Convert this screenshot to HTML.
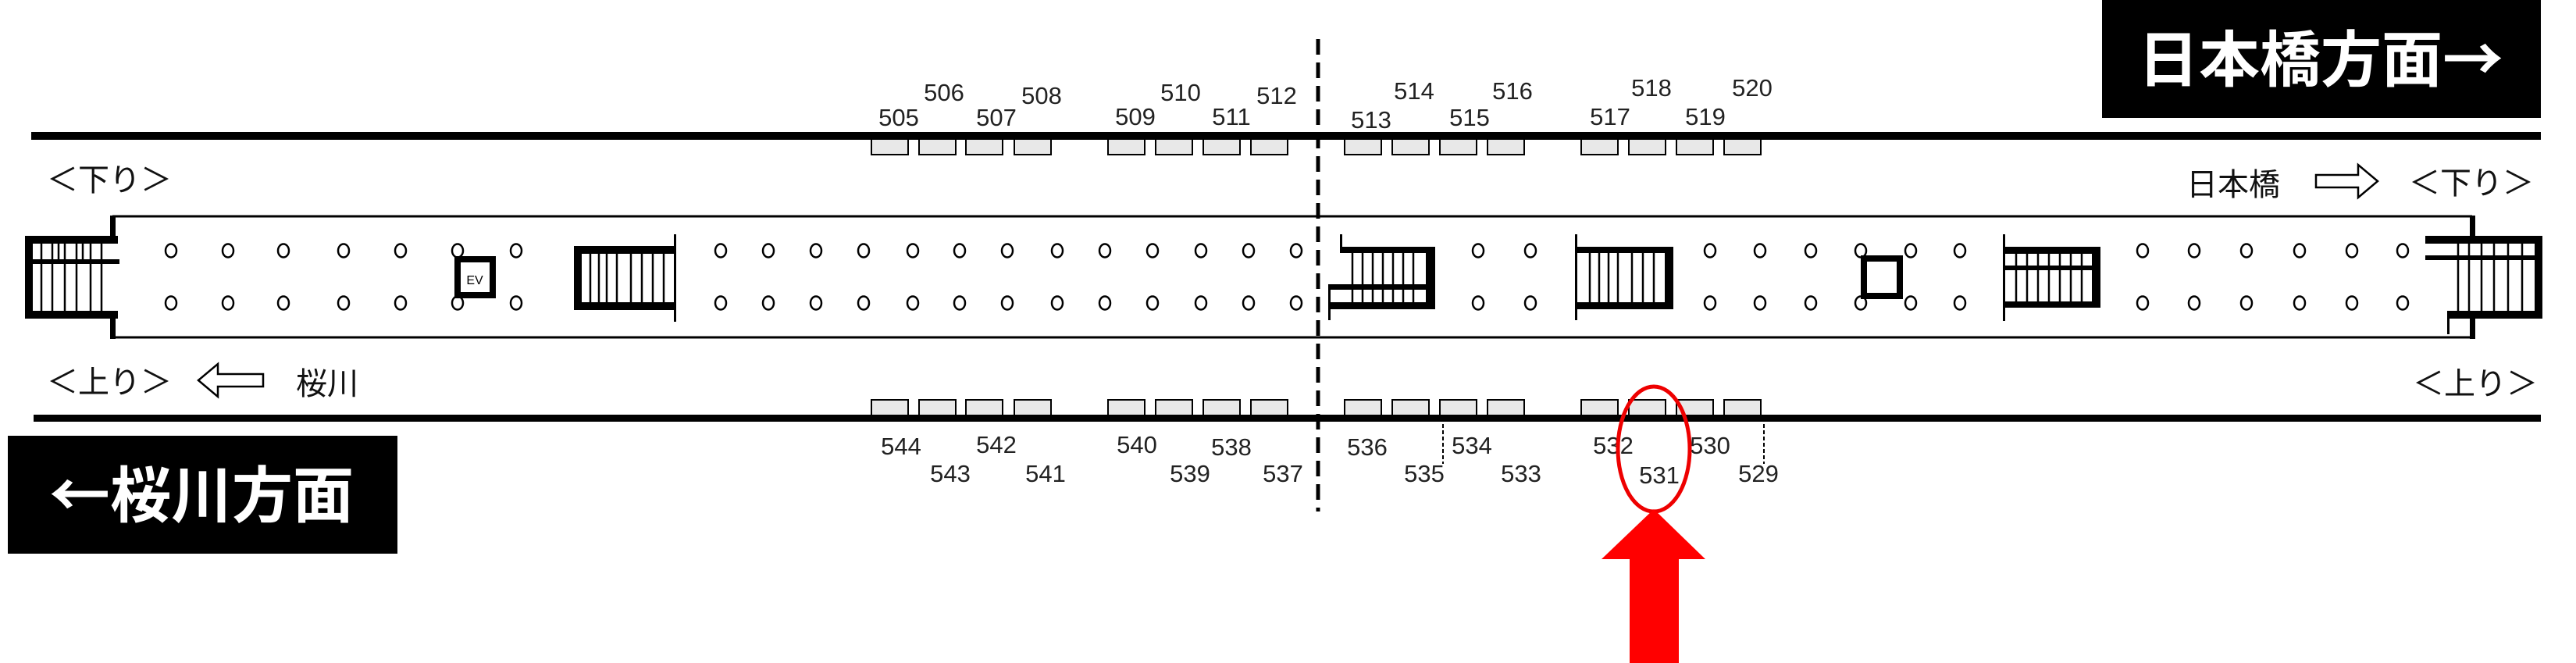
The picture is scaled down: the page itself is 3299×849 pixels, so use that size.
<!DOCTYPE html>
<html><head><meta charset="utf-8"><style>
html,body{margin:0;padding:0;background:#fff;}
svg{display:block;}
.n{font-family:"Liberation Sans Narrow","Liberation Sans",sans-serif;font-size:31px;fill:#222;text-anchor:middle;}
.j{font-family:"Liberation Sans","Noto Sans CJK JP",sans-serif;fill:#111;}
.h{font-family:"Noto Sans CJK JP",sans-serif;font-weight:bold;fill:#fff;}
</style></head><body>
<svg width="3299" height="849" viewBox="0 0 3299 849" xmlns="http://www.w3.org/2000/svg">
<rect width="3299" height="849" fill="#fff"/>
<!-- direction boxes -->
<rect x="2692" y="0" width="562" height="151" fill="#000"/>
<text x="2972" y="104" class="h" font-size="78" text-anchor="middle">日本橋方面→</text>
<rect x="10" y="558" width="499" height="151" fill="#000"/>
<text x="258" y="662" class="h" font-size="78" text-anchor="middle">←桜川方面</text>
<!-- rails -->
<rect x="40" y="169" width="3214" height="10" fill="#000"/>
<rect x="43" y="531" width="3211" height="9" fill="#000"/>
<!-- doors -->
<g fill="#e8e8e8" stroke="#000" stroke-width="2">
<rect x="1116" y="178" width="47" height="20"/><rect x="1177" y="178" width="47" height="20"/><rect x="1237" y="178" width="47" height="20"/><rect x="1299" y="178" width="47" height="20"/>
<rect x="1419" y="178" width="47" height="20"/><rect x="1480" y="178" width="47" height="20"/><rect x="1541" y="178" width="47" height="20"/><rect x="1602" y="178" width="47" height="20"/>
<rect x="1722" y="178" width="47" height="20"/><rect x="1783" y="178" width="47" height="20"/><rect x="1844" y="178" width="47" height="20"/><rect x="1905" y="178" width="47" height="20"/>
<rect x="2025" y="178" width="47" height="20"/><rect x="2086" y="178" width="47" height="20"/><rect x="2147" y="178" width="47" height="20"/><rect x="2208" y="178" width="47" height="20"/>
<rect x="1116" y="512" width="47" height="20"/><rect x="1177" y="512" width="47" height="20"/><rect x="1237" y="512" width="47" height="20"/><rect x="1299" y="512" width="47" height="20"/>
<rect x="1419" y="512" width="47" height="20"/><rect x="1480" y="512" width="47" height="20"/><rect x="1541" y="512" width="47" height="20"/><rect x="1602" y="512" width="47" height="20"/>
<rect x="1722" y="512" width="47" height="20"/><rect x="1783" y="512" width="47" height="20"/><rect x="1844" y="512" width="47" height="20"/><rect x="1905" y="512" width="47" height="20"/>
<rect x="2025" y="512" width="47" height="20"/><rect x="2086" y="512" width="47" height="20"/><rect x="2147" y="512" width="47" height="20"/><rect x="2208" y="512" width="47" height="20"/>
</g>
<!-- door numbers -->
<g class="n">
<text x="1209" y="129">506</text><text x="1334" y="133">508</text><text x="1512" y="129">510</text><text x="1635" y="133">512</text>
<text x="1811" y="127">514</text><text x="1937" y="127">516</text><text x="2115" y="123">518</text><text x="2244" y="123">520</text>
<text x="1151" y="161">505</text><text x="1276" y="161">507</text><text x="1454" y="160">509</text><text x="1577" y="160">511</text>
<text x="1756" y="164">513</text><text x="1882" y="161">515</text><text x="2062" y="160">517</text><text x="2184" y="160">519</text>
<text x="1154" y="582">544</text><text x="1276" y="580">542</text><text x="1456" y="580">540</text><text x="1577" y="583">538</text>
<text x="1751" y="583">536</text><text x="1885" y="581">534</text><text x="2066" y="581">532</text><text x="2190" y="581">530</text>
<text x="1217" y="617">543</text><text x="1339" y="617">541</text><text x="1524" y="617">539</text><text x="1643" y="617">537</text>
<text x="1824" y="617">535</text><text x="1948" y="617">533</text><text x="2125" y="619">531</text><text x="2252" y="617">529</text>
</g>
<line x1="1848" y1="543" x2="1848" y2="594" stroke="#000" stroke-width="2" stroke-dasharray="5,3"/>
<line x1="2259" y1="543" x2="2259" y2="594" stroke="#000" stroke-width="2" stroke-dasharray="5,3"/>
<!-- platform -->
<line x1="144" y1="277" x2="3166" y2="277" stroke="#000" stroke-width="3"/>
<line x1="144" y1="432" x2="3166" y2="432" stroke="#000" stroke-width="3"/>
<rect x="141" y="276" width="7" height="29" fill="#000"/><rect x="141" y="398" width="7" height="36" fill="#000"/>
<rect x="3163" y="276" width="7" height="27" fill="#000"/><rect x="3163" y="404" width="7" height="30" fill="#000"/>
<!-- left end stair -->
<g fill="#000">
<rect x="32" y="302" width="10" height="106"/><rect x="32" y="302" width="119" height="10"/><rect x="32" y="398" width="119" height="10"/><rect x="42" y="332" width="111" height="6"/>
</g>
<g stroke="#000" stroke-width="2.5">
<line x1="53" y1="312" x2="53" y2="398"/><line x1="67" y1="312" x2="67" y2="398"/><line x1="83" y1="312" x2="83" y2="398"/><line x1="98" y1="312" x2="98" y2="398"/><line x1="116" y1="312" x2="116" y2="398"/><line x1="130" y1="312" x2="130" y2="398"/>
<line x1="75" y1="312" x2="75" y2="332"/><line x1="106" y1="312" x2="106" y2="332"/>
</g>
<!-- right end stair -->
<g fill="#000">
<rect x="3106" y="302" width="150" height="10"/><rect x="3246" y="302" width="10" height="106"/><rect x="3135" y="398" width="121" height="10"/><rect x="3106" y="327" width="140" height="6"/><rect x="3134" y="398" width="3" height="30"/>
</g>
<g stroke="#000" stroke-width="2.5">
<line x1="3148" y1="312" x2="3148" y2="398"/><line x1="3162" y1="312" x2="3162" y2="398"/><line x1="3178" y1="312" x2="3178" y2="398"/><line x1="3194" y1="312" x2="3194" y2="398"/><line x1="3212" y1="312" x2="3212" y2="398"/><line x1="3230" y1="312" x2="3230" y2="398"/>
</g>
<!-- stair 2 -->
<g fill="#000">
<rect x="735" y="315" width="10" height="82"/><rect x="735" y="315" width="131" height="10"/><rect x="735" y="387" width="131" height="10"/><rect x="863" y="300" width="3" height="112"/>
</g>
<g stroke="#000" stroke-width="2.5">
<line x1="756" y1="325" x2="756" y2="387"/><line x1="767" y1="325" x2="767" y2="387"/><line x1="777" y1="325" x2="777" y2="387"/><line x1="790" y1="325" x2="790" y2="387"/><line x1="808" y1="325" x2="808" y2="387"/><line x1="822" y1="325" x2="822" y2="387"/><line x1="836" y1="325" x2="836" y2="387"/><line x1="850" y1="325" x2="850" y2="387"/>
</g>
<!-- stair 3 -->
<g fill="#000">
<rect x="1716" y="300" width="3" height="24"/><rect x="1716" y="316" width="122" height="8"/><rect x="1826" y="316" width="12" height="80"/><rect x="1702" y="387" width="136" height="9"/><rect x="1702" y="364" width="128" height="7"/><rect x="1701" y="364" width="3" height="46"/>
</g>
<g stroke="#000" stroke-width="2.5">
<line x1="1732" y1="324" x2="1732" y2="387"/><line x1="1745" y1="324" x2="1745" y2="387"/><line x1="1758" y1="324" x2="1758" y2="387"/><line x1="1771" y1="324" x2="1771" y2="387"/><line x1="1784" y1="324" x2="1784" y2="387"/><line x1="1797" y1="324" x2="1797" y2="387"/><line x1="1810" y1="324" x2="1810" y2="387"/>
</g>
<!-- stair 4 -->
<g fill="#000">
<rect x="2017" y="300" width="3" height="110"/><rect x="2017" y="316" width="126" height="8"/><rect x="2132" y="316" width="11" height="80"/><rect x="2017" y="387" width="126" height="9"/>
</g>
<g stroke="#000" stroke-width="2.5">
<line x1="2036" y1="324" x2="2036" y2="387"/><line x1="2048" y1="324" x2="2048" y2="387"/><line x1="2060" y1="324" x2="2060" y2="387"/><line x1="2072" y1="324" x2="2072" y2="387"/><line x1="2090" y1="324" x2="2090" y2="387"/><line x1="2104" y1="324" x2="2104" y2="387"/><line x1="2118" y1="324" x2="2118" y2="387"/>
</g>
<!-- stair 5 -->
<g fill="#000">
<rect x="2565" y="300" width="3" height="111"/><rect x="2565" y="316" width="125" height="9"/><rect x="2679" y="316" width="11" height="78"/><rect x="2565" y="340" width="114" height="6"/><rect x="2565" y="386" width="125" height="8"/>
</g>
<g stroke="#000" stroke-width="2.5">
<line x1="2582" y1="325" x2="2582" y2="386"/><line x1="2596" y1="325" x2="2596" y2="386"/><line x1="2610" y1="325" x2="2610" y2="386"/><line x1="2624" y1="325" x2="2624" y2="386"/><line x1="2638" y1="325" x2="2638" y2="386"/><line x1="2652" y1="325" x2="2652" y2="386"/><line x1="2666" y1="325" x2="2666" y2="386"/>
</g>
<!-- EV boxes -->
<rect x="586" y="332" width="45" height="46" fill="#fff" stroke="#000" stroke-width="8"/>
<text x="608" y="364" font-family="Liberation Sans, sans-serif" font-size="16" text-anchor="middle" fill="#000">EV</text>
<rect x="2387" y="331" width="46" height="48" fill="#fff" stroke="#000" stroke-width="8"/>
<!-- columns -->
<g fill="none" stroke="#000" stroke-width="2.5">
<g id="c1">
<ellipse cx="219" cy="321" rx="7" ry="8.5"/><ellipse cx="292" cy="321" rx="7" ry="8.5"/><ellipse cx="363" cy="321" rx="7" ry="8.5"/><ellipse cx="440" cy="321" rx="7" ry="8.5"/><ellipse cx="513" cy="321" rx="7" ry="8.5"/><ellipse cx="586" cy="321" rx="7" ry="8.5"/><ellipse cx="661" cy="321" rx="7" ry="8.5"/>
<ellipse cx="923" cy="321" rx="7" ry="8.5"/><ellipse cx="984" cy="321" rx="7" ry="8.5"/><ellipse cx="1045" cy="321" rx="7" ry="8.5"/><ellipse cx="1106" cy="321" rx="7" ry="8.5"/><ellipse cx="1169" cy="321" rx="7" ry="8.5"/><ellipse cx="1229" cy="321" rx="7" ry="8.5"/><ellipse cx="1290" cy="321" rx="7" ry="8.5"/><ellipse cx="1354" cy="321" rx="7" ry="8.5"/><ellipse cx="1415" cy="321" rx="7" ry="8.5"/><ellipse cx="1476" cy="321" rx="7" ry="8.5"/><ellipse cx="1538" cy="321" rx="7" ry="8.5"/><ellipse cx="1599" cy="321" rx="7" ry="8.5"/><ellipse cx="1660" cy="321" rx="7" ry="8.5"/>
<ellipse cx="1893" cy="321" rx="7" ry="8.5"/><ellipse cx="1960" cy="321" rx="7" ry="8.5"/>
<ellipse cx="2190" cy="321" rx="7" ry="8.5"/><ellipse cx="2254" cy="321" rx="7" ry="8.5"/><ellipse cx="2319" cy="321" rx="7" ry="8.5"/><ellipse cx="2383" cy="321" rx="7" ry="8.5"/><ellipse cx="2447" cy="321" rx="7" ry="8.5"/><ellipse cx="2510" cy="321" rx="7" ry="8.5"/>
<ellipse cx="2744" cy="321" rx="7" ry="8.5"/><ellipse cx="2810" cy="321" rx="7" ry="8.5"/><ellipse cx="2877" cy="321" rx="7" ry="8.5"/><ellipse cx="2945" cy="321" rx="7" ry="8.5"/><ellipse cx="3012" cy="321" rx="7" ry="8.5"/><ellipse cx="3077" cy="321" rx="7" ry="8.5"/>
</g>
<use href="#c1" y="67"/>
</g>
<!-- dashed center line -->
<line x1="1688" y1="50" x2="1688" y2="655" stroke="#000" stroke-width="5" stroke-dasharray="20,10"/>
<!-- labels -->
<text x="60" y="244" class="j" font-size="40">＜下り＞</text>
<text x="60" y="503" class="j" font-size="40">＜上り＞</text>
<text x="379" y="505" class="j" font-size="40">桜川</text>
<polygon points="254,487 279,466 279,479 337,479 337,495 279,495 279,508" fill="#fff" stroke="#000" stroke-width="2.5"/>
<text x="2800" y="250" class="j" font-size="40">日本橋</text>
<polygon points="3045,232 3020,211 3020,224 2966,224 2966,240 3020,240 3020,253" fill="#fff" stroke="#000" stroke-width="2.5"/>
<text x="3085" y="248" class="j" font-size="40">＜下り＞</text>
<text x="3090" y="505" class="j" font-size="40">＜上り＞</text>
<!-- red highlight -->
<ellipse cx="2118" cy="575" rx="46" ry="80" fill="none" stroke="#e00" stroke-width="5"/>
<polygon points="2118,652 2184,716 2150,716 2150,849 2087,849 2087,716 2051,716" fill="#f00"/>
</svg>
</body></html>
